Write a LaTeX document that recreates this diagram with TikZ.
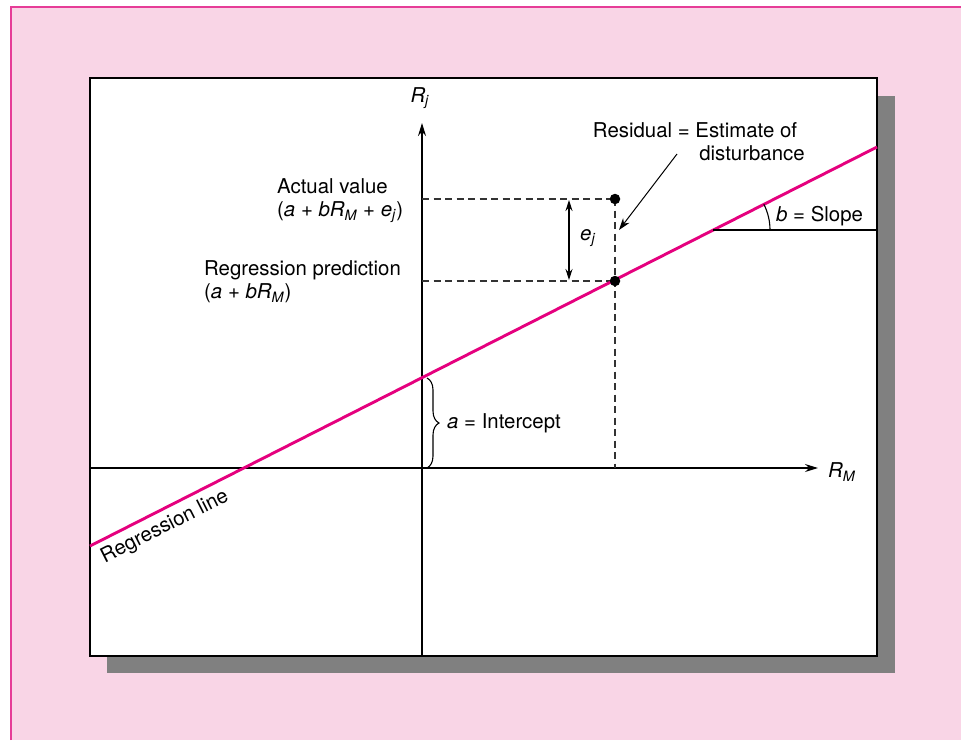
\documentclass[tikz,border=0pt]{standalone}
\usepackage{fontspec}
\setmainfont{TeX Gyre Heros}
\usetikzlibrary{arrows.meta,decorations.pathreplacing}
\definecolor{panelpink}{HTML}{F9D5E6}
\definecolor{borderpink}{HTML}{E63C97}
\definecolor{regmagenta}{HTML}{E5007E}
\definecolor{shadowgray}{HTML}{808080}
\newcommand{\ivar}[1]{\textit{#1}}
\newcommand{\isub}[2]{\textit{#1}\textsubscript{\textit{#2}}}

\begin{document}
\begin{tikzpicture}[
			x=1pt, y=-1pt,
			axis/.style={line width=1.3pt, -{Stealth[length=13pt,width=8pt]}},
			guide/.style={dashed, line width=1.3pt, dash pattern=on 7pt off 4.5pt, black!80},
			regline/.style={line width=2.9pt, regmagenta},
			label node/.style={font=\fontsize{20.4}{23}\selectfont, inner sep=0pt},
			dot/.style={circle, fill=black, inner sep=0pt, minimum size=10.5pt}
			]
			\useasboundingbox (0,0) rectangle (961,740);
			
			% panel and framed plot area
			\fill[panelpink] (10,6) rectangle (961,740);
			\draw[borderpink, line width=2.2pt] (11,740) -- (11,7) -- (961,7);
			\fill[shadowgray] (107,96) rectangle (895,673);
			\draw[fill=white, line width=1.4pt] (90,78) rectangle (877,656);
			
			\coordinate (xstart) at (90,468);
			\coordinate (xend) at (818,468);
			\coordinate (ystart) at (422,656);
			\coordinate (yend) at (422,123);
			\coordinate (origin) at (422,468);
			\coordinate (lstart) at (90,546);
			\coordinate (lend) at (877,147);
			\coordinate (icpt) at (422,378);
			\coordinate (slopept) at (713,230);
			\coordinate (slopeend) at (877,230);
			\coordinate (xfoot) at (615,468);
			\coordinate (actl) at (422,199);
			\coordinate (predl) at (422,281);
			
			\draw[axis] (xstart) -- (xend);
			\draw[axis] (ystart) -- (yend);
			\node[label node] (rm) at (842,472) {\isub{R}{M}};
			\node[label node] (rj) at (420,98) {\isub{R}{j}};
			
			\draw[guide] (actl) -- (615,199);
			\draw[guide] (predl) -- (615,281);
			\draw[guide] (615,199) -- (xfoot);
			
			\draw[regline] (lstart) -- (lend);
			
			\node[dot] (actual) at (615,199) {};
			\node[dot] (pred) at (615,281) {};
			
			% residual e_j
			\coordinate (etop) at (569,200);
			\coordinate (ebot) at (569,280);
			\draw[line width=1.1pt, {Stealth[length=11pt,width=7pt]}-{Stealth[length=11pt,width=7pt]}] (etop) -- (ebot);
			\node[label node, anchor=west] (ej) at (580,238) {\isub{e}{j}};
			
			\node[label node] (res1) at (695,130) {Residual = Estimate of};
			\node[label node] (res2) at (752,153) {disturbance};
			\coordinate (resfrom) at (677,154);
			\coordinate (resto) at (619,230);
			\draw[line width=1pt, -{Stealth[length=12pt,width=8pt]}] (resfrom) -- (resto);
			
			% slope
			\draw[line width=1.1pt] (slopept) -- (slopeend);
			\draw[line width=1.1pt] ([shift={(0:57pt)}]slopept) arc[start angle=0, end angle=26.9, radius=57pt];
			\node[label node, anchor=west] (slope) at (776,216) {\ivar{b} = Slope};
			
			% intercept
			\draw[line width=1.1pt, decorate, decoration={brace, amplitude=12pt}] ([xshift=5pt]icpt) -- ([xshift=5pt]origin);
			\node[label node, anchor=west] (intercept) at (447,423) {\ivar{a} = Intercept};
			
			\node[label node, anchor=west, align=left] (actlabel) at (277,201) {Actual value\\(\ivar{a} + \isub{bR}{M} + \isub{e}{j})};
			\node[label node, anchor=west, align=left] (predlabel) at (204,282) {Regression prediction\\(\ivar{a} + \isub{bR}{M})};
			
			\node[label node, rotate=26.9] (regname) at (165,527) {Regression line};
			
		\end{tikzpicture}
\end{document}
